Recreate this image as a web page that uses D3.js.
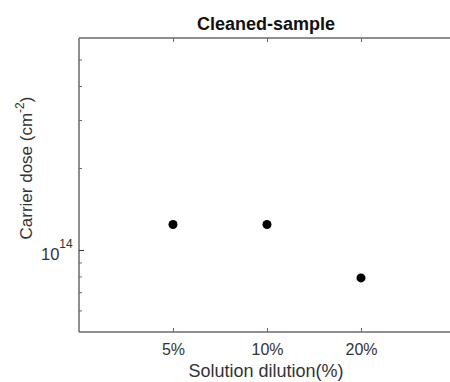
<!DOCTYPE html>
<html><head><meta charset="utf-8">
<script src="https://cdn.jsdelivr.net/npm/d3@7"></script>
<style>body{margin:0;background:#fff;}svg{display:block;}</style>
</head><body>
<script>
const categories = ["5%", "10%", "20%"];
const doseValues = [1.24e14, 1.24e14, 7.9e13];
const yMajorTicks = [1e14];
const yMinorTicks = [6e13, 7e13, 8e13, 9e13, 2e14, 3e14, 4e14, 5e14];
const title = "Cleaned-sample";
const xLabel = "Solution dilution(%)";

(function () {
const W = 450, H = 382;
const mLeft = 79, mTop = 38, mBottom = 332, mRight = 455;
const font = "Liberation Sans, Arial, sans-serif";
const svg = d3.select("body").append("svg").attr("width", W).attr("height", H);

const x = d3.scaleLinear().domain([0, categories.length + 1]).range([mLeft, mRight]);
const y = d3.scaleLog().domain([5e13, 6e14]).range([mBottom, mTop]);
const axisColor = "#6a6a6a";

// frame
svg.append("line").attr("x1", mLeft).attr("x2", W).attr("y1", mTop).attr("y2", mTop)
  .attr("stroke", axisColor).attr("stroke-width", 1.5);
svg.append("line").attr("x1", mLeft).attr("x2", W).attr("y1", mBottom).attr("y2", mBottom)
  .attr("stroke", axisColor).attr("stroke-width", 1.5);
svg.append("line").attr("x1", mLeft).attr("x2", mLeft).attr("y1", mTop).attr("y2", mBottom)
  .attr("stroke", axisColor).attr("stroke-width", 1.5);

// x ticks (inside, bottom and top)
const idx = categories.map((c, i) => i + 1);
const xAxisB = d3.axisBottom(x).tickValues(idx).tickSize(-4).tickFormat(i => categories[i - 1]).tickPadding(0);
const gB = svg.append("g").attr("transform", `translate(0,${mBottom})`).call(xAxisB);
gB.select(".domain").remove();
gB.selectAll(".tick line").attr("stroke", axisColor);
gB.selectAll(".tick text").attr("fill", "#333").attr("dy", null).attr("y", 23)
  .style("font-family", font).style("font-size", "16px");
const xAxisT = d3.axisTop(x).tickValues(idx).tickSize(-4).tickFormat("");
const gT = svg.append("g").attr("transform", `translate(0,${mTop})`).call(xAxisT);
gT.select(".domain").remove();
gT.selectAll(".tick line").attr("stroke", axisColor);

// y ticks inside
const gY = svg.append("g").attr("transform", `translate(${mLeft},0)`)
  .call(d3.axisLeft(y).tickValues(yMajorTicks).tickSize(-5).tickFormat(""));
gY.select(".domain").remove();
gY.selectAll(".tick line").attr("stroke", "#333");
const gYm = svg.append("g").attr("transform", `translate(${mLeft},0)`)
  .call(d3.axisLeft(y).tickValues(yMinorTicks).tickSize(-3).tickFormat(""));
gYm.select(".domain").remove();
gYm.selectAll(".tick line").attr("stroke", axisColor);

// 10^14 label
yMajorTicks.forEach(v => {
  const t = svg.append("text").attr("x", 41).attr("y", y(v) + 10)
    .attr("fill", "#333").style("font-family", font).style("font-size", "16.5px");
  t.append("tspan").text("10");
  t.append("tspan").attr("dy", -12).style("font-size", "12px").text(String(Math.round(Math.log10(v))));
});

// points
svg.append("g").selectAll("circle").data(doseValues).join("circle")
  .attr("cx", (d, i) => x(i + 1)).attr("cy", d => y(d)).attr("r", 4.5).attr("fill", "#000");

// title
svg.append("text").attr("x", 266).attr("y", 30).attr("text-anchor", "middle")
  .style("font-family", font).style("font-weight", "bold").style("font-size", "18px")
  .attr("fill", "#111").text(title);

// x label
svg.append("text").attr("x", 266).attr("y", 377).attr("text-anchor", "middle")
  .style("font-family", font).style("font-size", "18px")
  .attr("fill", "#333").text(xLabel);

// y label
const yl = svg.append("text").attr("transform", "translate(32,168) rotate(-90)").attr("text-anchor", "middle")
  .style("font-family", font).style("font-size", "17px").attr("fill", "#333");
yl.append("tspan").text("Carrier dose (cm");
yl.append("tspan").attr("dy", -8).style("font-size", "12px").text("-2");
yl.append("tspan").attr("dy", 8).text(")");
})();
</script>
</body></html>
